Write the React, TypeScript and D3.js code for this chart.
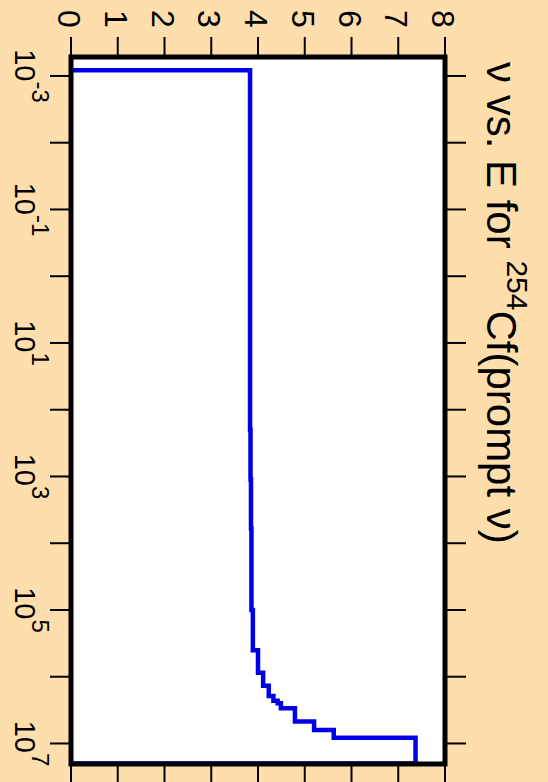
import React from 'react';
import * as d3 from 'd3';

const W = 548;
const H = 782;

// prompt nu histogram: nu is constant between two energy edges (eV)
const eEdges = [8.2e-4, 200, 1.1e3, 6e3, 1e5, 4e5, 8.7e5, 1.36e6, 1.94e6, 2.3e6, 2.5e6, 2.96e6, 4.7e6, 6.3e6, 8.2e6, 2e7];
const nuLevels = [3.83, 3.84, 3.85, 3.86, 3.89, 4.0, 4.11, 4.23, 4.33, 4.42, 4.49, 4.79, 5.2, 5.62, 7.37];

const nuTicks = [0, 1, 2, 3, 4, 5, 6, 7, 8];
const eTickExps = [-3, -2, -1, 0, 1, 2, 3, 4, 5, 6, 7];
const eLabelExps = [-3, -1, 1, 3, 5, 7];

const FONT = '"Liberation Sans", Arial, Helvetica, sans-serif';

const App = () => {
  // chart is drawn turned a quarter turn: nu runs left->right, E runs top->bottom
  const xNu = d3.scaleLinear().domain([0, 8]).range([71, 445]);
  const yE = d3.scaleLog().domain([5.2e-4, 2.03e7]).range([57, 764]);

  const pts: [number, number][] = [[0, eEdges[0]]];
  nuLevels.forEach((nu, i) => {
    pts.push([nu, eEdges[i]]);
    pts.push([nu, eEdges[i + 1]]);
  });
  pts.push([0, eEdges[eEdges.length - 1]]);

  const line = d3.line<[number, number]>()
    .x(d => xNu(d[0]))
    .y(d => yE(d[1]));

  const [x0, x1] = xNu.range();
  const [y0, y1] = yE.range();

  return (
    <svg width={W} height={H} style={{ position: 'absolute', left: 0, top: 0, display: 'block' }}
      fontFamily={FONT}>
      <rect x={0} y={0} width={W} height={H} fill="#ffdead" />
      <rect x={x0} y={y0} width={x1 - x0} height={y1 - y0} fill="#ffffff" />

      {/* nu ticks top and bottom */}
      {nuTicks.map(t => (
        <g key={'n' + t}>
          <line x1={xNu(t)} x2={xNu(t)} y1={y0 - 20} y2={y0} stroke="#000" strokeWidth={2} />
          <line x1={xNu(t)} x2={xNu(t)} y1={y1} y2={H + 2} stroke="#000" strokeWidth={2} />
          <text transform={`translate(${xNu(t) - 13},19) rotate(90)`} textAnchor="middle"
            fontSize={32}>{t}</text>
        </g>
      ))}

      {/* energy ticks left and right */}
      {eTickExps.map(p => (
        <g key={'e' + p}>
          <line x1={x0 - 21} x2={x0} y1={yE(Math.pow(10, p))} y2={yE(Math.pow(10, p))} stroke="#000" strokeWidth={2} />
          <line x1={x1} x2={x1 + 21} y1={yE(Math.pow(10, p))} y2={yE(Math.pow(10, p))} stroke="#000" strokeWidth={2} />
        </g>
      ))}
      {eLabelExps.map(p => (
        <text key={'l' + p} transform={`translate(15,${yE(Math.pow(10, p))}) rotate(90)`}
          textAnchor="middle" fontSize={29}>
          10<tspan fontSize={24} dy={-17}>{p}</tspan>
        </text>
      ))}

      <path d={line(pts) || ''} fill="none" stroke="#0000e8" strokeWidth={4.5} />
      <rect x={x0} y={y0} width={x1 - x0} height={y1 - y0} fill="none" stroke="#000" strokeWidth={5} />

      <text transform="translate(487,62) rotate(90)" fontSize={42}>
        ν vs. E for <tspan fontSize={30} dy={-20}>254</tspan><tspan dy={20}>Cf(prompt ν)</tspan>
      </text>
    </svg>
  );
};

export default App;
